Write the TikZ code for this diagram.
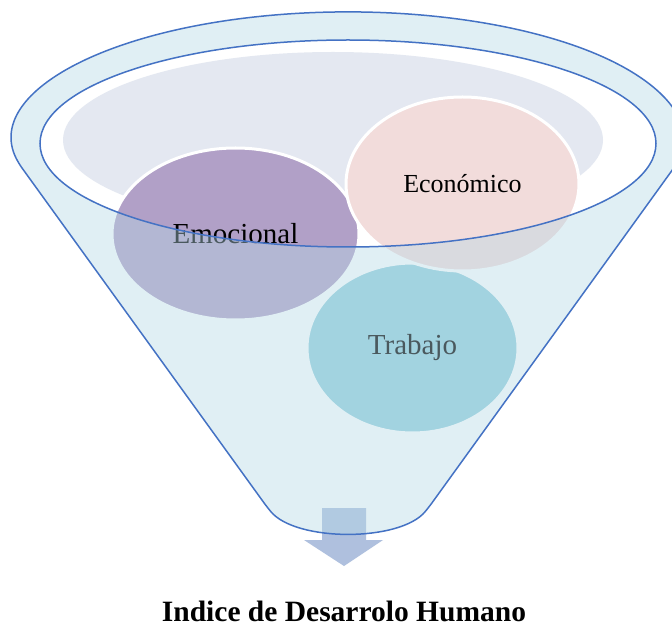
\documentclass[tikz,border=0pt]{standalone}
\usepackage{fontspec}
\setmainfont{Liberation Serif}
\usetikzlibrary{shapes.geometric}

\definecolor{funnelblue}{RGB}{68,114,196}
\definecolor{facecol}{RGB}{182,217,230}
\definecolor{backcol}{RGB}{228,232,241}
\definecolor{emocol}{RGB}{177,160,199}
\definecolor{ecocol}{RGB}{242,220,219}
\definecolor{trabcol}{RGB}{148,207,220}
\definecolor{arrowcol}{RGB}{175,192,222}

\begin{document}
\begin{tikzpicture}[x=1pt, y=-1pt,
  blob/.style={ellipse, draw=white, line width=3pt, inner sep=0pt},
  rim/.style={draw=funnelblue, line width=1.5pt}]

  % Frame
  \useasboundingbox[fill=white] (0,0) rectangle (672,628);

  % Bottom seen through the mouth
  \fill[backcol] (333,140) ellipse[x radius=270, y radius=88];

  % The three sets
  \node[blob, fill=trabcol, minimum width=211pt, minimum height=170pt,
        font=\fontsize{29}{34}\selectfont] (trabajo) at (412.5,348) {Trabajo};
  \node[blob, fill=emocol, minimum width=247pt, minimum height=172pt,
        font=\fontsize{29}{34}\selectfont] (emocional) at (235.5,234) {Emocional};
  \node[blob, fill=ecocol, minimum width=233pt, minimum height=174pt,
        font=\fontsize{26}{31}\selectfont] (economico) at (462.5,184) {Económico};

  % Outlet arrow
  \coordinate (spout) at (344,508);
  \fill[arrowcol] (322,508) -- (366,508) -- (366,540) -- (383,540)
    -- (344,566) -- (304,540) -- (322,540) -- cycle;

  % Funnel front (see-through) and mouth
  \draw[rim, fill=facecol, fill opacity=0.41, even odd rule, rounded corners=6pt]
    (18.4,163) arc[start angle=169.6, end angle=370.4, x radius=335, y radius=128]
    -- (429,507) .. controls (400,542) and (296,542) .. (267,507) -- cycle
    (348,143.5) ellipse[x radius=308, y radius=103.5];

  % Result
  \node[font=\bfseries\fontsize{29.5}{35}\selectfont] (idh) at (344,611)
    {Indice de Desarrolo Humano};

\end{tikzpicture}
\end{document}
